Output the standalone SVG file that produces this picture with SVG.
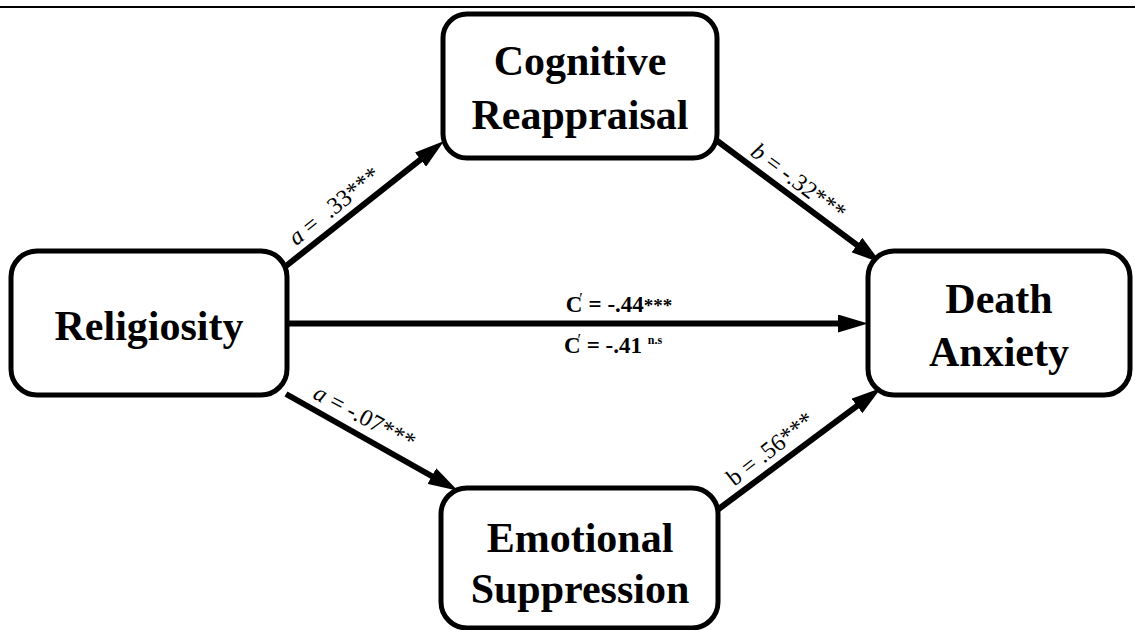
<svg xmlns="http://www.w3.org/2000/svg" width="1135" height="630" viewBox="0 0 1135 630">
<style>
.box{fill:#fff;stroke:#000;stroke-width:5}
.nt{font-family:"Liberation Serif","Times New Roman",serif;font-weight:bold;font-size:42px;fill:#000;text-anchor:middle}
.edge{stroke:#000;stroke-width:6;fill:none}
.lb{font-family:"Liberation Serif","Times New Roman",serif;font-size:24px;fill:#000;text-anchor:middle}
.cl{font-family:"Liberation Serif","Times New Roman",serif;font-weight:bold;font-size:23px;fill:#000;text-anchor:middle}
</style>
<defs>
<marker id="ah" viewBox="0 0 30 18" refX="14" refY="9" markerWidth="30" markerHeight="18" markerUnits="userSpaceOnUse" orient="auto">
<path d="M0,0 L30,9 L0,18 z" fill="#000"/>
</marker>
</defs>
<rect x="0" y="0" width="1135" height="630" fill="#fff"/>
<line x1="0" y1="7" x2="1135" y2="7" stroke="#000" stroke-width="2.2"/>
<g id="connectors">
<path class="edge" d="M286,266 L431.5,150.9" marker-end="url(#ah)"/>
<path class="edge" d="M716,140 L868.2,253.4" marker-end="url(#ah)"/>
<path class="edge" d="M288,323.5 L852,323.5" marker-end="url(#ah)"/>
<path class="edge" d="M286,394 L444,483" marker-end="url(#ah)"/>
<path class="edge" d="M716,511 L868.2,397.6" marker-end="url(#ah)"/>
<text class="lb" transform="translate(339,212) rotate(-38.7)" xml:space="preserve"><tspan font-style="italic">a</tspan> =  .33***</text>
<text class="lb" transform="translate(794,188) rotate(36.8)"><tspan font-style="italic">b</tspan> = -.32***</text>
<text class="lb" transform="translate(361,424) rotate(28)"><tspan font-style="italic">a</tspan> = -.07***</text>
<text class="lb" transform="translate(775,455) rotate(-38)">b = .56***</text>
<text class="cl" x="619" y="312">C<tspan dx="-3" dy="-8" font-size="16" font-weight="normal">′</tspan><tspan dy="8"> = -.44</tspan><tspan font-size="19">***</tspan></text>
<text class="cl" x="613" y="353">C<tspan dx="-3" dy="-8" font-size="16" font-weight="normal">′</tspan><tspan dy="8"> = -.41 </tspan><tspan dy="-9" font-size="12">n.s</tspan></text>
</g>
<g id="cognitive">
<rect class="box" x="443" y="14" width="274" height="144" rx="24"/>
<text class="nt" x="580" y="75">Cognitive</text>
<text class="nt" x="580" y="129">Reappraisal</text>
</g>
<g id="religiosity">
<rect class="box" x="11" y="251" width="276" height="144" rx="26"/>
<text class="nt" x="149" y="340">Religiosity</text>
</g>
<g id="death">
<rect class="box" x="868" y="251" width="262" height="144" rx="26"/>
<text class="nt" x="999" y="313">Death</text>
<text class="nt" x="999" y="366">Anxiety</text>
</g>
<g id="emotional">
<rect class="box" x="441" y="488" width="277" height="140" rx="26"/>
<text class="nt" x="580" y="552">Emotional</text>
<text class="nt" x="580" y="603">Suppression</text>
</g>
</svg>
